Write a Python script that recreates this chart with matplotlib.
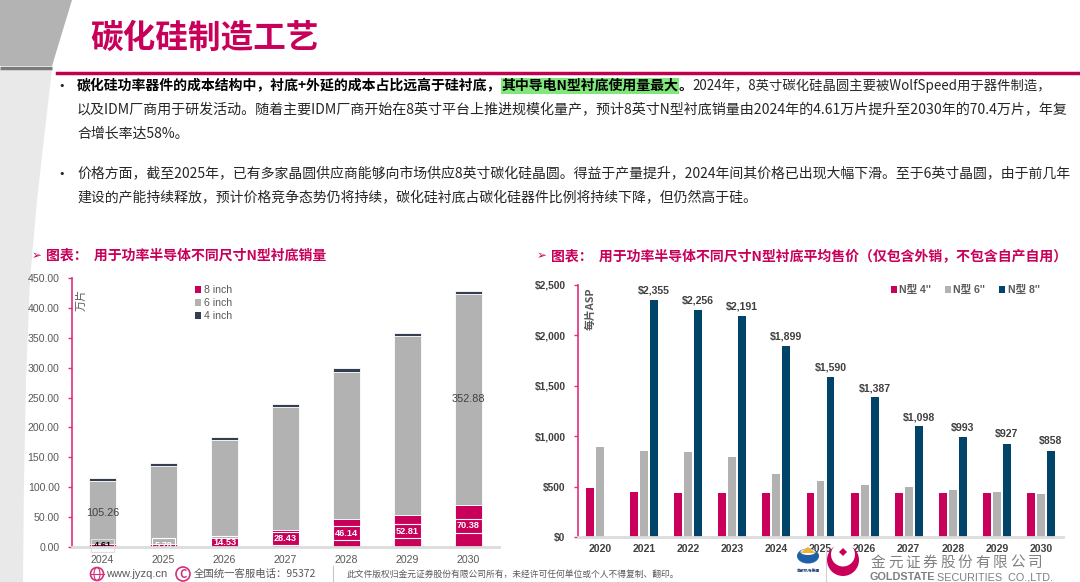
"""
碳化硅制造工艺 - N型衬底销量与平均售价
"""

import numpy as np
import matplotlib
matplotlib.use("Agg")
import matplotlib.pyplot as plt
import matplotlib.ticker as mticker
from matplotlib.patches import Polygon, Patch, Circle, Ellipse

plt.rcParams["font.family"] = ["Noto Sans CJK SC", "DejaVu Sans"]

# ─────────────────────────────────────────────
# 数据：用于功率半导体不同尺寸N型衬底销量（万片）
# ─────────────────────────────────────────────
qty_years = ["2024", "2025", "2026", "2027", "2028", "2029", "2030"]
qty_8inch = [4.61, 5.78, 14.53, 28.43, 46.14, 52.81, 70.38]
qty_6inch = [105.26, 129.7, 164.5, 205.0, 247.4, 299.6, 352.88]
qty_4inch = [5.8, 5.8, 5.8, 5.8, 5.8, 5.8, 5.8]
qty_6inch_shown = ["105.26", "", "", "", "", "", "352.88"]

# ─────────────────────────────────────────────
# 数据：N型衬底平均售价（美元/片）
# ─────────────────────────────────────────────
asp_years = ["2020", "2021", "2022", "2023", "2024", "2025",
             "2026", "2027", "2028", "2029", "2030"]
asp_4inch = [490, 443, 440, 435, 435, 435, 433, 433, 432, 432, 432]
asp_6inch = [890, 855, 845, 795, 625, 560, 520, 495, 470, 450, 425]
asp_8inch = [np.nan, 2355, 2256, 2191, 1899, 1590, 1387, 1098, 993, 927, 858]

PINK = "#c8005a"
GRAY = "#b2b2b2"
DARK = "#333f50"
NAVY = "#00446a"
TXT = "#262626"
TICK = "#595959"

W, H = 1080, 582


def fx(x):
    return x / W


def fy(y):
    return 1 - y / H


fig = plt.figure(figsize=(W / 100, H / 100), dpi=100)
fig.patch.set_facecolor("white")

# fond décoratif (coordonnées en pixels)
bg = fig.add_axes([0, 0, 1, 1], zorder=0)
bg.set_xlim(0, W)
bg.set_ylim(H, 0)
bg.axis("off")
bg.add_patch(Polygon([(0, 0), (72, 0), (52, 66), (0, 66)], closed=True,
                     fc="#b3b3b3", ec="none"))
bg.plot([0, 52], [67.5, 67.5], color="#7a7a7a", lw=2.5, solid_capstyle="butt")
bg.add_patch(Polygon([(0, 69), (52, 69), (45, 130), (37, 200), (30, 280),
                      (26, 380), (24, 480), (23, 582), (0, 582)], closed=True,
                     fc="#e9e9e9", ec="none"))
bg.plot([57, W], [73, 73], color="#c0004f", lw=2.5)

# titre
fig.text(fx(90), fy(38), "碳化硅制造工艺", fontsize=23.5, weight="bold",
         color=PINK, va="center")

# texte à puces
BODY = 10
renderer = fig.canvas.get_renderer()


def put_runs(x, y, runs):
    for s, kw in runs:
        kw = dict(kw)
        size = kw.pop("size", BODY)
        t = fig.text(fx(x), fy(y), s, fontsize=size, va="center", **kw)
        x += t.get_window_extent(renderer).width


for yb in (86, 174):
    fig.text(fx(62), fy(yb), "•", fontsize=8, va="center", ha="center",
             color=TXT, family="DejaVu Sans")

put_runs(77, 86, [
    ("碳化硅功率器件的成本结构中，衬底+外延的成本占比远高于硅衬底，",
     dict(weight="bold", color="black")),
    ("其中导电N型衬底使用量最大",
     dict(weight="bold", color="black",
          bbox=dict(fc="#80e87a", ec="none", pad=0.6))),
    ("。", dict(weight="bold", color="black")),
    ("2024年，8英寸碳化硅晶圆主要被WolfSpeed用于器件制造，",
     dict(color=TXT, size=9.6)),
])
put_runs(77, 110, [("以及IDM厂商用于研发活动。随着主要IDM厂商开始在8英寸平台上推进规模化量产，"
                    "预计8英寸N型衬底销量由2024年的4.61万片提升至2030年的70.4万片，年复",
                    dict(color=TXT, size=10.1))])
put_runs(77, 134, [("合增长率达58%。", dict(color=TXT))])
put_runs(77, 174, [("价格方面，截至2025年，已有多家晶圆供应商能够向市场供应8英寸碳化硅晶圆。"
                    "得益于产量提升，2024年间其价格已出现大幅下滑。至于6英寸晶圆，由于前几年",
                    dict(color=TXT))])
put_runs(77, 198, [("建设的产能持续释放，预计价格竞争态势仍将持续，碳化硅衬底占碳化硅器件比例将持续下降，"
                    "但仍然高于硅。", dict(color=TXT))])

# titres des graphiques
for xa, title in [(32, "图表：  用于功率半导体不同尺寸N型衬底销量"),
                  (537, "图表：  用于功率半导体不同尺寸N型衬底平均售价（仅包含外销，不包含自产自用）")]:
    fig.text(fx(xa), fy(256), "➢", fontsize=8.5, color=PINK, va="center",
             family="DejaVu Sans")
    fig.text(fx(xa + 14), fy(256), title, fontsize=10, weight="bold",
             color=PINK, va="center")

# ─────────────────────────────────────────────
# 左图：销量堆积柱
# ─────────────────────────────────────────────
axL = fig.add_axes([fx(72), fy(547), 427 / W, 269 / H], zorder=2)
axL.patch.set_alpha(0)
xq = np.arange(len(qty_years))
bw = 0.43
bottom6 = np.array(qty_8inch)
bottom4 = bottom6 + np.array(qty_6inch)
axL.bar(xq, qty_8inch, bw, color=PINK, edgecolor="white", lw=0.6, zorder=1)
axL.bar(xq, qty_6inch, bw, bottom=bottom6, color=GRAY, edgecolor="white",
        lw=0.6, zorder=1)
axL.bar(xq, qty_4inch, bw, bottom=bottom4, color=DARK, edgecolor="white",
        lw=0.6, zorder=1)

for i, v in enumerate(qty_8inch):
    first = i == 0
    axL.text(xq[i], v / 2, f"{v:.2f}", ha="center", va="center",
             fontsize=6.6, weight="bold", family="Liberation Sans",
             color="black" if first else "white", zorder=2,
             bbox=dict(boxstyle="square,pad=0.25", fc="none",
                       ec="#dedede" if first else "white", lw=0.8))
for i, s in enumerate(qty_6inch_shown):
    if s:
        axL.text(xq[i], qty_8inch[i] + qty_6inch[i] / 2, s, ha="center",
                 va="center", fontsize=7.8, family="Liberation Sans",
                 color="#404040", zorder=2)

axL.set_xlim(-0.5, len(qty_years) - 0.5)
axL.set_ylim(0, 450)
axL.set_yticks(np.arange(0, 451, 50))
axL.yaxis.set_major_formatter(mticker.FormatStrFormatter("%.2f"))
axL.set_xticks(xq)
axL.set_xticklabels(qty_years)
axL.tick_params(axis="y", direction="out", length=3, width=1, color="#e0307a",
                labelsize=7.6, labelcolor=TICK, labelfontfamily="Liberation Sans", pad=6)
axL.tick_params(axis="x", length=0, labelsize=7.6, labelcolor=TICK,
                labelfontfamily="Liberation Sans", pad=6)
for sp in ("top", "right"):
    axL.spines[sp].set_visible(False)
axL.spines["left"].set_color("#e0307a")
axL.spines["left"].set_linewidth(1.2)
axL.spines["bottom"].set_color("#dcdcdc")
axL.spines["bottom"].set_linewidth(2)
fig.text(fx(82), fy(300), "万片", rotation=90, fontsize=8, color=TICK,
         ha="center", va="center")
axL.legend(handles=[Patch(fc=PINK, label="8 inch"),
                    Patch(fc=GRAY, label="6 inch"),
                    Patch(fc=DARK, label="4 inch")],
           loc="upper left", bbox_to_anchor=(fx(195), fy(285)),
           bbox_transform=fig.transFigure, frameon=False, handlelength=0.6,
           handleheight=0.6, handletextpad=0.25, labelspacing=0.3,
           borderpad=0, borderaxespad=0, labelcolor=TICK,
           prop={"family": "Liberation Sans", "size": 7.6})

# ─────────────────────────────────────────────
# 右图：平均售价分组柱
# ─────────────────────────────────────────────
axR = fig.add_axes([fx(578), fy(537), 485 / W, 252 / H], zorder=2)
axR.patch.set_alpha(0)
xa = np.arange(len(asp_years))
w, off = 0.18, 0.227
axR.bar(xa - off, asp_4inch, w, color=PINK, label="N型 4''")
axR.bar(xa, asp_6inch, w, color=GRAY, label="N型 6''")
axR.bar(xa + off, asp_8inch, w, color=NAVY, label="N型 8''")
for i, v in enumerate(asp_8inch):
    if not np.isnan(v):
        axR.annotate(f"${v:,.0f}", (xa[i] + off, v), xytext=(0, 3),
                     textcoords="offset points", ha="center", va="bottom",
                     fontsize=7.6, weight="bold", family="Liberation Sans",
                     color="#404040")
axR.set_xlim(-0.5, len(asp_years) - 0.5)
axR.set_ylim(0, 2500)
axR.set_yticks(np.arange(0, 2501, 500))
axR.yaxis.set_major_formatter(mticker.FuncFormatter(lambda v, p: f"${v:,.0f}"))
axR.set_xticks(xa)
axR.set_xticklabels(asp_years, weight="bold")
axR.tick_params(axis="y", direction="out", length=3, width=1, color="#e0307a",
                labelsize=7.4, labelcolor="#404040",
                labelfontfamily="Liberation Sans", pad=6)
for lab in axR.get_yticklabels():
    lab.set_fontweight("bold")
axR.tick_params(axis="x", length=0, labelsize=7.6, labelcolor="#404040",
                labelfontfamily="Liberation Sans", pad=5)
for sp in ("top", "right"):
    axR.spines[sp].set_visible(False)
axR.spines["left"].set_color("#e0307a")
axR.spines["left"].set_linewidth(1.2)
axR.spines["bottom"].set_color("#dcdcdc")
axR.spines["bottom"].set_linewidth(2)
fig.text(fx(591), fy(309), "每片ASP", rotation=90, fontsize=7.8, weight="bold",
         color=TICK, ha="center", va="center")
axR.legend(loc="upper left", bbox_to_anchor=(fx(891), fy(285)),
           bbox_transform=fig.transFigure, ncol=3, frameon=False,
           handlelength=0.6, handleheight=0.6, handletextpad=0.2,
           columnspacing=1.3, borderpad=0, borderaxespad=0, labelcolor=TICK,
           prop={"family": ["Liberation Sans", "Noto Sans CJK SC"],
                 "size": 7.6, "weight": "bold"})

# ─────────────────────────────────────────────
# 页脚
# ─────────────────────────────────────────────
top = fig.add_axes([0, 0, 1, 1], zorder=5)
top.set_xlim(0, W)
top.set_ylim(H, 0)
top.axis("off")
top.add_patch(Circle((97, 574), 6.5, fc="none", ec="#d2307a", lw=1.2))
top.add_patch(Ellipse((97, 574), 6, 13, fc="none", ec="#d2307a", lw=0.8))
top.plot([90.5, 103.5], [574, 574], color="#d2307a", lw=0.8)
top.add_patch(Circle((183, 574), 7, fc="none", ec="#d2307a", lw=1.2))
top.text(183, 574.5, "C", fontsize=8, color="#d2307a", ha="center",
         va="center", style="italic", weight="bold")
fig.text(fx(106), fy(574), "www.jyzq.cn", fontsize=8, color=TICK,
         va="center", family="Liberation Sans")
fig.text(fx(194), fy(574), "全国统一客服电话：95372", fontsize=7.5, color=TICK,
         va="center")
top.plot([333, 333], [566, 582], color="#c8c8c8", lw=0.8)
fig.text(fx(347), fy(574), "此文件版权归金元证券股份有限公司所有，未经许可任何单位或个人不得复制、翻印。",
         fontsize=6.3, color=TICK, va="center")

# logos
top.add_patch(Ellipse((808, 556), 22, 15, fc="#1f5fa8", ec="none"))
top.add_patch(Ellipse((808, 552), 15, 6, fc="white", ec="none"))
top.add_patch(Polygon([(800, 553), (808, 547), (816, 553)], fc="#f2b233", ec="none"))
top.text(808, 571, "首都机场集团", fontsize=2.8, color="#1f3f7a", ha="center",
         va="center", weight="bold")
top.plot([826, 826], [548, 582], color="#d0d0d0", lw=0.8)
top.add_patch(Circle((843, 560), 16, fc=PINK, ec="none"))
top.add_patch(Circle((843, 554.5), 12, fc="white", ec="none"))
top.add_patch(Polygon([(843, 548), (847, 552), (843, 556), (839, 552)],
                      fc=PINK, ec="none"))
for k, ch in enumerate("金元证券股份有限公司"):
    top.text(878 + 17.4 * k, 563, ch, fontsize=10.5, color="#808080",
             ha="center", va="center")
top.text(870, 577, "GOLDSTATE", fontsize=7.8, color="#808080", va="center",
         weight="bold", family="Liberation Sans")
top.text(937, 577, "SECURITIES  CO.,LTD.", fontsize=7.8, color="#808080",
         va="center", family="Liberation Sans")

fig.savefig("out.png", dpi=100, facecolor="white")
